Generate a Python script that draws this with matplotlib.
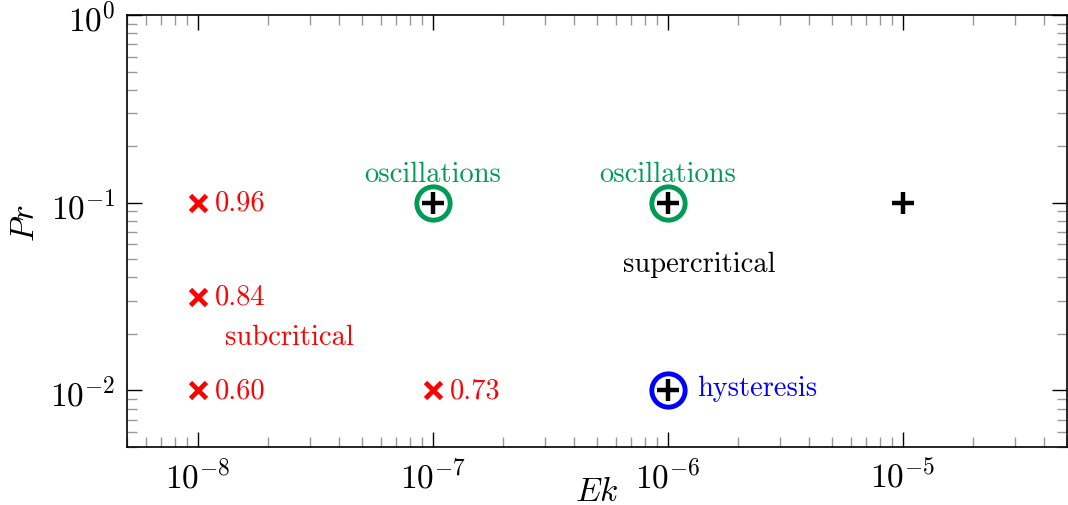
import numpy as np
import matplotlib.pyplot as plt

plt.rcParams['font.family'] = 'serif'
plt.rcParams['font.serif'] = ['cmr10']
plt.rcParams['mathtext.fontset'] = 'cm'
plt.rcParams['axes.formatter.use_mathtext'] = True

green = '#009b55'

# subcritical runs (red crosses) with their labels
sub_ek = [1e-8, 1e-8, 1e-8, 1e-7]
sub_pr = [0.1, 0.0316, 0.01, 0.01]
sub_lab = ['0.96', '0.84', '0.60', '0.73']

# supercritical runs (black plus)
sup_ek = [1e-7, 1e-6, 1e-5, 1e-6]
sup_pr = [0.1, 0.1, 0.1, 0.01]

# circled runs
osc_ek = [1e-7, 1e-6]
osc_pr = [0.1, 0.1]
hyst_ek = [1e-6]
hyst_pr = [0.01]

fig = plt.figure(figsize=(10.68, 5.06), dpi=100)
ax = fig.add_axes([127/1068, 1-448/506, 940/1068, 432/506])
ax.set_xscale('log')
ax.set_yscale('log')
ax.set_xlim(5e-9, 5e-5)
ax.set_ylim(5e-3, 1)

ax.plot(osc_ek, osc_pr, 'o', ms=24, mfc='none', mec=green, mew=3.5, ls='none')
ax.plot(hyst_ek, hyst_pr, 'o', ms=24, mfc='none', mec='blue', mew=3.5, ls='none')
ax.plot(sup_ek, sup_pr, '+', ms=16, mew=3.2, color='black', ls='none')
ax.plot(sub_ek, sub_pr, 'x', ms=11.5, mew=3.4, color='red', ls='none')

fs = 20.5
for x, y, s in zip(sub_ek, sub_pr, sub_lab):
    ax.annotate(s, (x, y), xytext=(12.5, 0), textcoords='offset points',
                ha='left', va='center', color='red', fontsize=fs)
for x, y in zip(osc_ek, osc_pr):
    ax.annotate('oscillations', (x, y), xytext=(0, 20.5), textcoords='offset points',
                ha='center', va='center', color=green, fontsize=fs)
ax.annotate('hysteresis', (hyst_ek[0], hyst_pr[0]), xytext=(21, 2), textcoords='offset points',
            ha='left', va='center', color='blue', fontsize=fs)
ax.text(1.36e-6, 0.047, 'supercritical', ha='center', va='center', color='black', fontsize=fs)
ax.text(2.46e-8, 0.0193, 'subcritical', ha='center', va='center', color='red', fontsize=fs)

ax.set_xlabel('$Ek$', fontsize=24, va='center')
ax.set_ylabel('$Pr$', fontsize=24, va='center')
ax.xaxis.set_label_coords(0.5, -0.104)
ax.yaxis.set_label_coords(-0.108, 0.52)

for s in ax.spines.values():
    s.set_linewidth(1.2)
ax.tick_params(which='both', direction='in', top=True, right=True, labelsize=24)
ax.tick_params(which='major', length=11, width=1.0, pad=8)
ax.tick_params(which='minor', length=7, width=1.0, color='#999999')
ax.set_xticks([1e-8, 1e-7, 1e-6, 1e-5])
ax.set_yticks([1e-2, 1e-1, 1])

fig.savefig('out.png', dpi=100)
